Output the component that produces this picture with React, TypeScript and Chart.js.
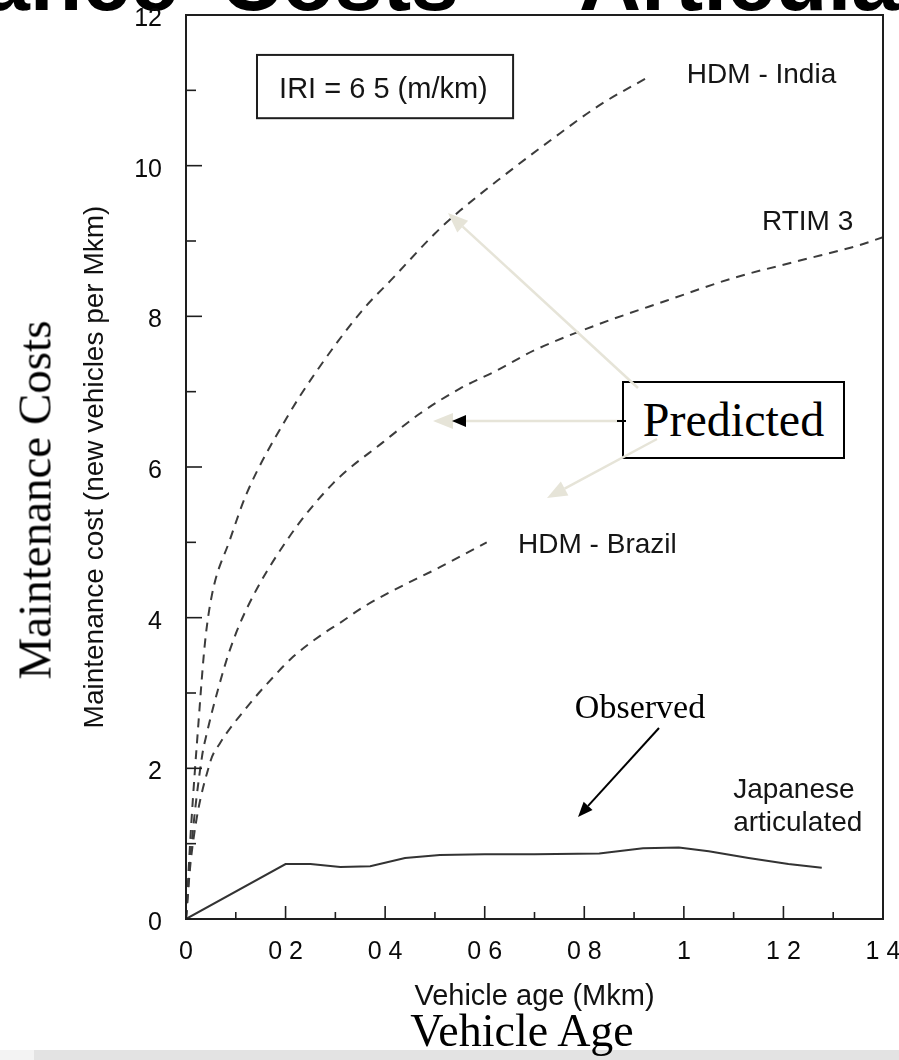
import React, { useEffect, useRef } from "react";
import { Chart, registerables } from "chart.js";

Chart.register(...registerables);

// ---- axis tick labels (as printed in the scan) ----
const xTickLabels = ["0", "0 2", "0 4", "0 6", "0 8", "1", "1 2", "1 4"];
const yTickLabels = ["0", "2", "4", "6", "8", "10", "12"];

// ---- series (vehicle age in Mkm, maintenance cost) ----
const hdmIndiaAge = [0, 0.01, 0.025, 0.038, 0.052, 0.088, 0.122, 0.203, 0.26, 0.353, 0.416, 0.5, 0.55, 0.633, 0.731, 0.83, 0.932];
const hdmIndiaCost = [0, 1.2, 2.6, 3.66, 4.3, 5.03, 5.65, 6.66, 7.25, 8.07, 8.51, 9.1, 9.4, 9.84, 10.33, 10.8, 11.19];

const rtimAge = [0, 0.01, 0.032, 0.042, 0.064, 0.088, 0.122, 0.203, 0.295, 0.396, 0.47, 0.55, 0.624, 0.7, 0.831, 0.966, 1.1, 1.233, 1.35, 1.4];
const rtimCost = [0, 0.9, 2.15, 2.47, 3.04, 3.57, 4.12, 5.03, 5.78, 6.33, 6.71, 7.04, 7.28, 7.55, 7.9, 8.21, 8.51, 8.74, 8.94, 9.05];

const hdmBrazilAge = [0, 0.01, 0.048, 0.068, 0.122, 0.175, 0.215, 0.276, 0.309, 0.356, 0.404, 0.51, 0.604];
const hdmBrazilCost = [0, 0.8, 2.07, 2.33, 2.81, 3.21, 3.48, 3.79, 3.93, 4.14, 4.32, 4.67, 5.0];

const japaneseAge = [0, 0.2, 0.25, 0.31, 0.37, 0.44, 0.51, 0.6, 0.7, 0.83, 0.918, 0.99, 1.05, 1.13, 1.21, 1.277];
const japaneseCost = [0, 0.73, 0.73, 0.69, 0.7, 0.81, 0.85, 0.86, 0.86, 0.87, 0.94, 0.95, 0.9, 0.81, 0.73, 0.68];

const SANS = "'Liberation Sans', Arial, Helvetica, sans-serif";
const SERIF = "'Liberation Serif', 'Times New Roman', serif";

const pts = (xs: number[], ys: number[]) => xs.map((x, i) => ({ x, y: ys[i] }));

// labels placed in data units
const curveLabels = [
  { text: "HDM - India", x: 1.006, y: 11.2 },
  { text: "RTIM 3", x: 1.157, y: 9.25 },
  { text: "HDM - Brazil", x: 0.667, y: 4.96 },
  { text: "Japanese", x: 1.099, y: 1.71 },
  { text: "articulated", x: 1.099, y: 1.27 },
];

const annotatePlugin = {
  id: "annotate",
  afterDatasetsDraw(chart: any) {
    const { ctx, chartArea: a, scales } = chart;
    const xs = scales.x;
    const ys = scales.y;
    ctx.save();
    // frame
    ctx.strokeStyle = "#1e1e1e";
    ctx.lineWidth = 2;
    ctx.strokeRect(a.left, a.top, a.right - a.left, a.bottom - a.top);
    // inward ticks
    ctx.lineWidth = 1.6;
    for (let i = 0; i <= 14; i++) {
      const px = xs.getPixelForValue(i / 10);
      const len = i % 2 === 0 ? 13 : 7;
      ctx.beginPath();
      ctx.moveTo(px, a.bottom);
      ctx.lineTo(px, a.bottom - len);
      ctx.stroke();
    }
    for (let v = 0; v <= 12; v++) {
      const py = ys.getPixelForValue(v);
      const len = v % 2 === 0 ? 16 : 10;
      ctx.beginPath();
      ctx.moveTo(a.left, py);
      ctx.lineTo(a.left + len, py);
      ctx.stroke();
    }
    // IRI box
    const bx1 = xs.getPixelForValue(0.1426);
    const bx2 = xs.getPixelForValue(0.657);
    const by1 = ys.getPixelForValue(11.47);
    const by2 = ys.getPixelForValue(10.63);
    ctx.fillStyle = "#fff";
    ctx.fillRect(bx1, by1, bx2 - bx1, by2 - by1);
    ctx.lineWidth = 2;
    ctx.strokeRect(bx1, by1, bx2 - bx1, by2 - by1);
    ctx.fillStyle = "#151515";
    ctx.textBaseline = "middle";
    ctx.textAlign = "left";
    ctx.font = `29px ${SANS}`;
    ctx.fillText("IRI = 6 5 (m/km)", xs.getPixelForValue(0.187), ys.getPixelForValue(11.0));
    // curve labels
    ctx.font = `28px ${SANS}`;
    for (const l of curveLabels) {
      ctx.fillText(l.text, xs.getPixelForValue(l.x), ys.getPixelForValue(l.y));
    }
    ctx.restore();
  },
};

function arrow(x1: number, y1: number, x2: number, y2: number, len: number, half: number) {
  const dx = x2 - x1;
  const dy = y2 - y1;
  const d = Math.hypot(dx, dy);
  const ux = dx / d;
  const uy = dy / d;
  const bx = x2 - ux * len;
  const by = y2 - uy * len;
  const nx = -uy;
  const ny = ux;
  return {
    line: { x1, y1, x2: bx, y2: by },
    head: `${x2},${y2} ${bx + nx * half},${by + ny * half} ${bx - nx * half},${by - ny * half}`,
  };
}

export default function App() {
  const ref = useRef<HTMLCanvasElement>(null);

  useEffect(() => {
    const canvas = ref.current;
    if (!canvas) return;
    const dashed = {
      borderColor: "#3c3c3c",
      borderWidth: 2,
      borderDash: [9, 7],
      pointRadius: 0,
      fill: false,
      cubicInterpolationMode: "monotone" as const,
    };
    const chart = new Chart(canvas, {
      type: "line",
      data: {
        datasets: [
          { label: "HDM - India", data: pts(hdmIndiaAge, hdmIndiaCost), ...dashed },
          { label: "RTIM 3", data: pts(rtimAge, rtimCost), ...dashed },
          { label: "HDM - Brazil", data: pts(hdmBrazilAge, hdmBrazilCost), ...dashed },
          {
            label: "Japanese articulated",
            data: pts(japaneseAge, japaneseCost),
            borderColor: "#333",
            borderWidth: 2,
            pointRadius: 0,
            fill: false,
            tension: 0,
          },
        ],
      },
      options: {
        responsive: false,
        animation: false,
        devicePixelRatio: 1,
        layout: { padding: { left: 0, top: 15, right: 16, bottom: 0 } },
        plugins: {
          legend: { display: false },
          tooltip: { enabled: false },
          title: { display: false },
        },
        scales: {
          x: {
            type: "linear",
            min: 0,
            max: 1.4,
            afterFit: (s: any) => {
              s.height = 141;
              s.paddingLeft = 0;
              s.paddingRight = 0;
            },
            grid: { display: false, drawTicks: false },
            border: { display: false },
            ticks: {
              stepSize: 0.2,
              autoSkip: false,
              maxRotation: 0,
              minRotation: 0,
              padding: 18,
              color: "#0a0a0a",
              font: { family: SANS, size: 25 },
              callback: (_v: any, i: number) => xTickLabels[i],
            },
            title: {
              display: true,
              text: "Vehicle age (Mkm)",
              color: "#111",
              font: { family: SANS, size: 29 },
              padding: { top: 0, bottom: 46 },
            },
          },
          y: {
            type: "linear",
            min: 0,
            max: 12,
            afterFit: (s: any) => {
              s.width = 186;
              s.paddingTop = 0;
              s.paddingBottom = 0;
            },
            grid: { display: false, drawTicks: false },
            border: { display: false },
            ticks: {
              stepSize: 2,
              autoSkip: false,
              padding: 24,
              labelOffset: 4,
              color: "#0a0a0a",
              font: { family: SANS, size: 25 },
              callback: (_v: any, i: number) => yTickLabels[i],
            },
            title: {
              display: true,
              text: "Maintenance cost (new vehicles per Mkm)",
              color: "#111",
              font: { family: SANS, size: 28 },
              padding: { top: 78, bottom: 0 },
            },
          },
        },
      },
      plugins: [annotatePlugin],
    });
    return () => chart.destroy();
  }, []);

  const gray = "#e6e4d8";
  const a1 = arrow(638, 388, 448, 213, 20, 8);
  const a2 = arrow(622, 421, 433, 421, 20, 8);
  const a3 = arrow(657, 439, 547, 498, 20, 8);
  const ab = arrow(466, 421, 452, 421, 14, 6);
  const ao = arrow(659, 728, 578, 817, 15, 6);

  return (
    <div
      style={{
        position: "absolute",
        left: 0,
        top: 0,
        width: 899,
        height: 1060,
        overflow: "hidden",
        background: "#fff",
      }}
    >
      {/* slide title, mostly cut off at the top */}
      <div style={{ position: "absolute", top: -63, left: 0, width: 899, height: 86, fontFamily: SANS, fontWeight: "bold", fontSize: 86, lineHeight: "86px", color: "#000", whiteSpace: "pre" }}>
        <span style={{ position: "absolute", right: 899 - 178 }}>Maintenance</span>
        <span style={{ position: "absolute", left: 220 }}>Costs</span>
        <span style={{ position: "absolute", left: 498 }}>-</span>
        <span style={{ position: "absolute", left: 579 }}>Articulated</span>
      </div>

      <canvas
        ref={ref}
        width={899}
        height={1060}
        style={{ position: "absolute", left: 0, top: 0, width: 899, height: 1060 }}
      />

      {/* slide annotations */}
      <div
        style={{
          position: "absolute",
          left: 35,
          top: 500,
          transform: "translate(-50%, -50%) rotate(-90deg)",
          fontFamily: SERIF,
          fontSize: 47,
          lineHeight: "47px",
          whiteSpace: "nowrap",
          color: "#000",
        }}
      >
        Maintenance Costs
      </div>

      <div
        style={{
          position: "absolute",
          left: 622,
          top: 381,
          width: 223,
          height: 78,
          boxSizing: "border-box",
          border: "2px solid #000",
          background: "#fff",
          display: "flex",
          alignItems: "center",
          justifyContent: "center",
          fontFamily: SERIF,
          fontSize: 48,
          lineHeight: "48px",
          color: "#000",
        }}
      >
        Predicted
      </div>

      <div
        style={{
          position: "absolute",
          left: 640,
          top: 690,
          transform: "translateX(-50%)",
          fontFamily: SERIF,
          fontSize: 34,
          lineHeight: "34px",
          whiteSpace: "nowrap",
          color: "#000",
        }}
      >
        Observed
      </div>

      <svg width={899} height={1060} style={{ position: "absolute", left: 0, top: 0 }}>
        {[a1, a2, a3].map((a, i) => (
          <g key={i}>
            <line x1={a.line.x1} y1={a.line.y1} x2={a.line.x2} y2={a.line.y2} stroke={gray} strokeWidth={2.5} />
            <polygon points={a.head} fill={gray} />
          </g>
        ))}
        <polygon points={ab.head} fill="#000" />
        <line x1={617} y1={421} x2={626} y2={421} stroke="#000" strokeWidth={2} />
        <line x1={ao.line.x1} y1={ao.line.y1} x2={ao.line.x2} y2={ao.line.y2} stroke="#000" strokeWidth={2} />
        <polygon points={ao.head} fill="#000" />
      </svg>

      {/* bottom grey strip */}
      <div style={{ position: "absolute", left: 0, top: 1050, width: 34, height: 10, background: "#f3f3f3" }} />
      <div style={{ position: "absolute", left: 34, top: 1050, width: 865, height: 10, background: "#e3e3e3" }} />

      <div
        style={{
          position: "absolute",
          left: 522,
          top: 1008,
          transform: "translateX(-50%)",
          fontFamily: SERIF,
          fontSize: 46,
          lineHeight: "46px",
          whiteSpace: "nowrap",
          color: "#000",
        }}
      >
        Vehicle Age
      </div>
    </div>
  );
}
